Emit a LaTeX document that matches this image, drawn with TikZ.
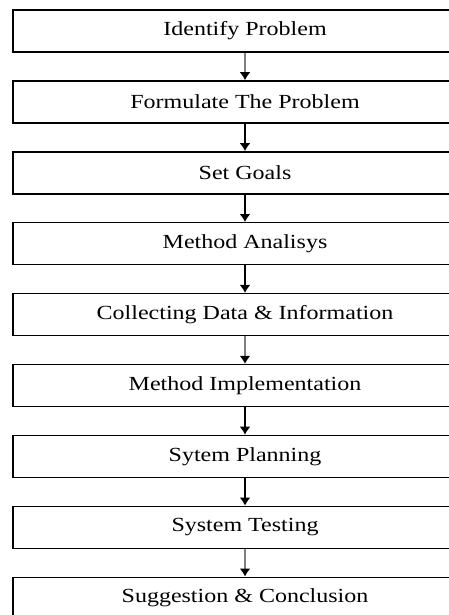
\documentclass[tikz,border=0pt]{standalone}
\usepackage{fontspec}
\setmainfont[FakeStretch=1.2]{Liberation Serif}
\usepackage{tikz}
\usetikzlibrary{arrows.meta}

\tikzset{
	stepbox/.style={draw,line width=1.4pt,minimum width=464pt,minimum height=42pt,inner sep=0pt,font=\fontsize{20}{24}\selectfont},
	flow/.style={line width=1.8pt,-{Latex[length=8pt,width=11pt,color=black]}},
	grayflow/.style={flow,draw=black!50}
}

\begin{document}
\begin{tikzpicture}[x=1pt,y=1pt]
	\useasboundingbox (0,0) rectangle (448,-615);
	\node[stepbox] (idp) at (245,-31) {Identify Problem};
	\node[stepbox] (frm) at (245,-101.9) {Formulate The Problem};
	\node[stepbox] (goal) at (245,-172.8) {Set Goals};
	\node[stepbox] (anl) at (245,-243.7) {Method Analisys};
	\node[stepbox] (data) at (245,-314.6) {Collecting Data \& Information};
	\node[stepbox] (impl) at (245,-385.5) {Method Implementation};
	\node[stepbox] (plan) at (245,-456.4) {Sytem Planning};
	\node[stepbox] (test) at (245,-527.3) {System Testing};
	\node[stepbox] (conc) at (245,-598.2) {Suggestion \& Conclusion};
	\draw[grayflow] (idp) -- (frm);
	\draw[flow] (frm) -- (goal);
	\draw[flow] (goal) -- (anl);
	\draw[flow] (anl) -- (data);
	\draw[grayflow] (data) -- (impl);
	\draw[flow] (impl) -- (plan);
	\draw[flow] (plan) -- (test);
	\draw[grayflow] (test) -- (conc);
\end{tikzpicture}
\end{document}
